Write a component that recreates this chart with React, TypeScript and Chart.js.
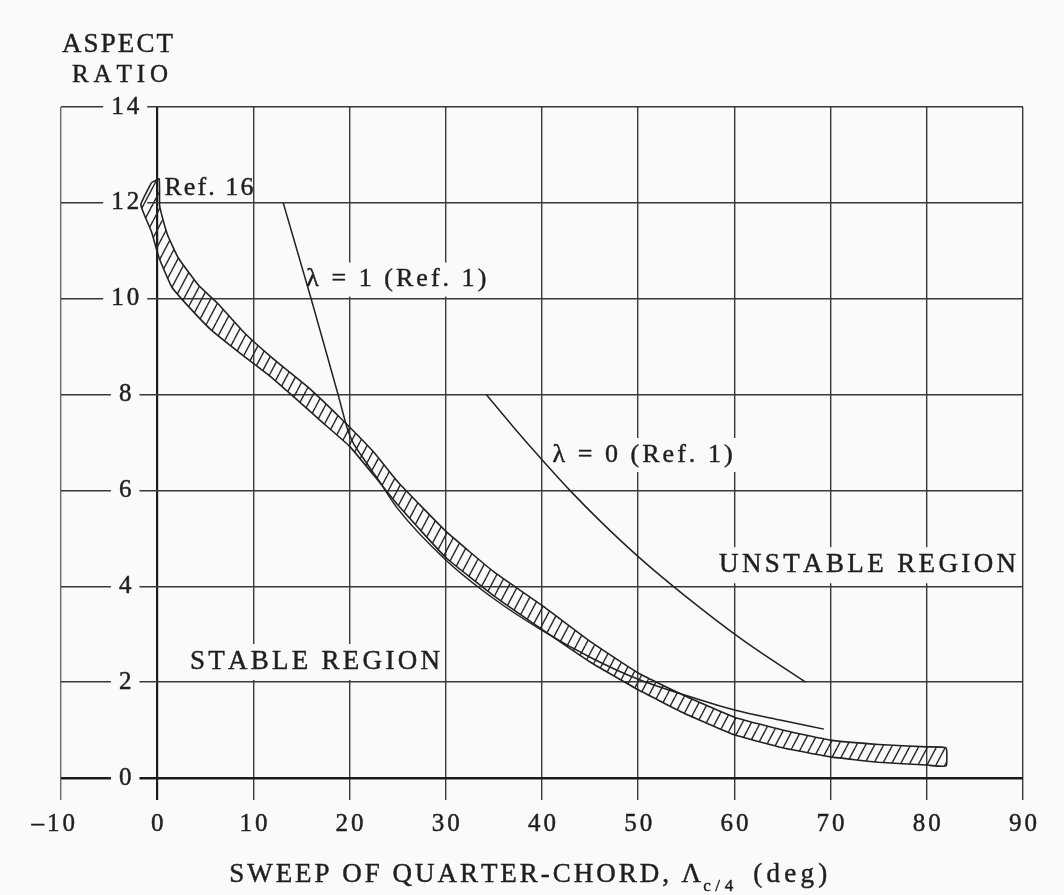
import React, { useEffect, useRef } from "react";
import { Chart, registerables } from "chart.js";

Chart.register(...registerables);

// ---------------- data ----------------
const bandUpperX = [-0.6, 0.2, 0.25, 0.6, 1.1, 2.2, 4.3, 6.3, 9.0, 12.1, 15.7, 19.1, 22.5, 25, 30, 35, 40, 45, 50, 55, 60, 65, 70, 75, 80, 82];
const bandUpperY = [12.42, 12.5, 11.95, 11.65, 11.32, 10.85, 10.28, 9.9, 9.3, 8.74, 8.15, 7.5, 6.8, 6.18, 5.15, 4.3, 3.6, 2.85, 2.19, 1.7, 1.27, 1.0, 0.79, 0.7, 0.65, 0.63];

const bandLowerX = [-1.7, -0.6, 0.2, 1.5, 3.2, 5.6, 8.7, 11.5, 14.2, 17, 20, 22.5, 25, 30, 35, 40, 45, 50, 55, 60, 65, 70, 75, 80, 82];
const bandLowerY = [11.96, 11.4, 10.85, 10.25, 9.85, 9.35, 8.85, 8.42, 7.95, 7.45, 6.92, 6.32, 5.7, 4.6, 3.8, 3.1, 2.42, 1.84, 1.33, 0.9, 0.63, 0.44, 0.33, 0.27, 0.25];

const lambda1X = [13.1, 16.0, 18.8, 20.0, 21.5, 23, 25, 30, 35, 40, 45, 50, 55, 60, 65, 69.3];
const lambda1Y = [12.0, 10.0, 8.0, 7.15, 6.65, 6.22, 5.62, 4.55, 3.74, 3.08, 2.52, 2.06, 1.72, 1.42, 1.2, 1.02];

const lambda0X = [34.2, 37, 40, 43, 46, 50, 55, 61, 67.4];
const lambda0Y = [8.0, 7.33, 6.64, 5.98, 5.37, 4.62, 3.78, 2.86, 2.0];

const xTickValues = [-10, 0, 10, 20, 30, 40, 50, 60, 70, 80, 90];
const xTickLabels = ["–10", "0", "10", "20", "30", "40", "50", "60", "70", "80", "90"];
const yTickValues = [0, 2, 4, 6, 8, 10, 12, 14];
const yTickLabels = ["0", "2", "4", "6", "8", "10", "12", "14"];

const yTitleLines = ["ASPECT", "RATIO"];
const xTitleMain = "SWEEP OF QUARTER-CHORD, Λ";
const xTitleSub = "c/4";
const xTitleTail = "(deg)";

// ---------------- style ----------------
const FONT = '"Liberation Serif", "DejaVu Serif", serif';
const INK = "#1f1f1f";
const PAPER = "#fafafa";

function toPoints(xs: number[], ys: number[]) {
  return xs.map((x, i) => ({ x, y: ys[i] }));
}

function makeHatch(): CanvasPattern | string {
  const w = 9;
  const h = 17;
  const c = document.createElement("canvas");
  c.width = w;
  c.height = h;
  const g = c.getContext("2d");
  if (!g) return "rgba(0,0,0,0.3)";
  g.strokeStyle = "#262626";
  g.lineWidth = 1.4;
  for (const dx of [-w, 0, w]) {
    g.beginPath();
    g.moveTo(dx, h);
    g.lineTo(dx + w, 0);
    g.stroke();
  }
  return g.createPattern(c, "repeat") || "rgba(0,0,0,0.3)";
}

function measureSpaced(ctx: CanvasRenderingContext2D, text: string, size: number, gap: number) {
  ctx.font = `${size}px ${FONT}`;
  const chars = Array.from(text);
  const widths = chars.map((c) => ctx.measureText(c).width);
  const natural = widths.reduce((a, b) => a + b, 0);
  return { chars, widths, total: natural + gap * Math.max(0, chars.length - 1), natural };
}

function drawSpaced(
  ctx: CanvasRenderingContext2D,
  text: string,
  left: number,
  cy: number,
  size: number,
  opts: { width?: number; gap?: number; box?: boolean; boxH?: number; pad?: number }
) {
  const m0 = measureSpaced(ctx, text, size, 0);
  let gap = opts.gap ?? 0;
  if (opts.width !== undefined && m0.chars.length > 1) {
    gap = (opts.width - m0.natural) / (m0.chars.length - 1);
  }
  const total = m0.natural + gap * Math.max(0, m0.chars.length - 1);
  if (opts.box) {
    const pad = opts.pad ?? 6;
    const h = opts.boxH ?? size * 1.2;
    ctx.fillStyle = PAPER;
    ctx.fillRect(left - pad, cy - h / 2, total + pad * 2, h);
  }
  ctx.font = `${size}px ${FONT}`;
  ctx.fillStyle = INK;
  ctx.strokeStyle = INK;
  ctx.lineWidth = 0.45;
  ctx.textBaseline = "middle";
  ctx.textAlign = "left";
  let x = left;
  m0.chars.forEach((c, i) => {
    ctx.fillText(c, x, cy);
    ctx.strokeText(c, x, cy);
    x += m0.widths[i] + gap;
  });
  return total;
}

const paperPlugin = {
  id: "paper",
  beforeDraw(chart: any) {
    const ctx = chart.ctx as CanvasRenderingContext2D;
    ctx.save();
    ctx.fillStyle = PAPER;
    ctx.fillRect(0, 0, chart.width, chart.height);
    ctx.restore();
  },
};

const textPlugin = {
  id: "texts",
  beforeDatasetsDraw(chart: any) {
    const ctx = chart.ctx as CanvasRenderingContext2D;
    const xs = chart.scales.x;
    const ys = chart.scales.y;
    const area = chart.chartArea;
    ctx.save();

    // y tick labels in the column left of the zero line, breaking the grid lines
    const yLabelCx = xs.getPixelForValue(0) - 32;
    yTickValues.forEach((v, i) => {
      const t = yTickLabels[i];
      const m = measureSpaced(ctx, t, 25, 3);
      const left = yLabelCx - m.total / 2;
      drawSpaced(ctx, t, left, ys.getPixelForValue(v), 25, { gap: 3, box: true, boxH: 16, pad: 8 });
    });

    // x tick labels under the tick marks
    const xLabelY = area.bottom + 46;
    xTickValues.forEach((v, i) => {
      const t = xTickLabels[i];
      const digits = t.replace("–", "");
      const md = measureSpaced(ctx, digits, 25, 3);
      const mf = measureSpaced(ctx, t, 25, 3);
      const cx = xs.getPixelForValue(v);
      const left = cx + md.total / 2 - mf.total;
      drawSpaced(ctx, t, left, xLabelY, 25, { gap: 3 });
    });

    // y title (top left)
    drawSpaced(ctx, yTitleLines[0], area.left + 1, area.top - 62, 27, { width: 111 });
    drawSpaced(ctx, yTitleLines[1], area.left + 11, area.top - 32, 25, { width: 96 });

    // x title with subscript
    const titleY = area.bottom + 97;
    const tLeft = xs.getPixelForValue(0) + 72;
    const w1 = drawSpaced(ctx, xTitleMain, tLeft, titleY, 27, { width: 472 });
    const subLeft = tLeft + w1 + 2;
    const w2 = drawSpaced(ctx, xTitleSub, subLeft, titleY + 12, 17, { width: 30 });
    drawSpaced(ctx, xTitleTail, subLeft + w2 + 20, titleY, 27, { width: 74 });

    // in-plot annotations (positions in data units)
    const ann = (text: string, dx: number, dy: number, size: number, width: number, box: boolean, boxH: number) => {
      drawSpaced(ctx, text, xs.getPixelForValue(dx), ys.getPixelForValue(dy), size, { width, box, boxH, pad: 4 });
    };
    ann("Ref. 16", 0.75, 12.3, 26, 89, false, 0);
    ann("λ = 1 (Ref. 1)", 15.5, 10.4, 26, 180, true, 34);
    ann("λ = 0 (Ref. 1)", 41.1, 6.74, 26, 180, true, 34);
    ann("UNSTABLE REGION", 58.4, 4.44, 27, 297, true, 36);
    ann("STABLE REGION", 3.4, 2.42, 27, 250, true, 36);

    ctx.restore();
  },
};

export default function App() {
  const canvasRef = useRef<HTMLCanvasElement | null>(null);

  useEffect(() => {
    const canvas = canvasRef.current;
    if (!canvas) return;
    const hatch = makeHatch();

    const bandShape = [
      ...toPoints(bandUpperX, bandUpperY),
      ...toPoints(bandLowerX, bandLowerY).reverse(),
      { x: bandUpperX[0], y: bandUpperY[0] },
    ];

    const gridColorX = (c: any) => {
      const v = c.tick && c.tick.value;
      if (v === 0) return "#1c1c1c";
      if (v === -10) return "#6a6a6a";
      return "#383838";
    };
    const gridWidthX = (c: any) => {
      const v = c.tick && c.tick.value;
      if (v === 0) return 2.2;
      return 1.4;
    };
    const gridColorY = (c: any) => {
      const v = c.tick && c.tick.value;
      if (v === 0) return "#1c1c1c";
      return "#383838";
    };
    const gridWidthY = (c: any) => {
      const v = c.tick && c.tick.value;
      if (v === 0) return 2.4;
      return 1.4;
    };

    const chart = new Chart(canvas, {
      type: "scatter",
      data: {
        datasets: [
          {
            label: "λ = 1 (Ref. 1)",
            data: toPoints(lambda1X, lambda1Y),
            showLine: true,
            borderColor: "#222222",
            borderWidth: 1.5,
            pointRadius: 0,
            cubicInterpolationMode: "monotone",
            fill: false,
          },
          {
            label: "λ = 0 (Ref. 1)",
            data: toPoints(lambda0X, lambda0Y),
            showLine: true,
            borderColor: "#222222",
            borderWidth: 1.5,
            pointRadius: 0,
            cubicInterpolationMode: "monotone",
            fill: false,
          },
          {
            label: "Ref. 16",
            data: bandShape,
            showLine: true,
            borderColor: "#222222",
            borderWidth: 1.6,
            pointRadius: 0,
            tension: 0.12,
            fill: "shape",
            backgroundColor: hatch as any,
          },
        ],
      },
      options: {
        animation: false,
        responsive: false,
        devicePixelRatio: 1,
        layout: { padding: { left: 61, right: 41, top: 107, bottom: 95 } },
        plugins: {
          legend: { display: false },
          tooltip: { enabled: false },
          title: { display: false },
        },
        scales: {
          x: {
            type: "linear",
            min: -10,
            max: 90,
            ticks: { stepSize: 10, display: false },
            grid: {
              color: gridColorX,
              lineWidth: gridWidthX,
              drawTicks: true,
              tickLength: 22,
              tickColor: gridColorX,
              tickWidth: gridWidthX,
            },
            border: { display: false },
          },
          y: {
            type: "linear",
            min: 0,
            max: 14,
            ticks: { stepSize: 2, display: false },
            grid: { color: gridColorY, lineWidth: gridWidthY, drawTicks: false },
            border: { display: false },
          },
        },
      },
      plugins: [paperPlugin, textPlugin],
    });

    return () => chart.destroy();
  }, []);

  return (
    <div style={{ position: "fixed", left: 0, top: 0, width: 1064, height: 895, background: PAPER }}>
      <canvas ref={canvasRef} width={1064} height={895} style={{ display: "block" }} />
    </div>
  );
}
